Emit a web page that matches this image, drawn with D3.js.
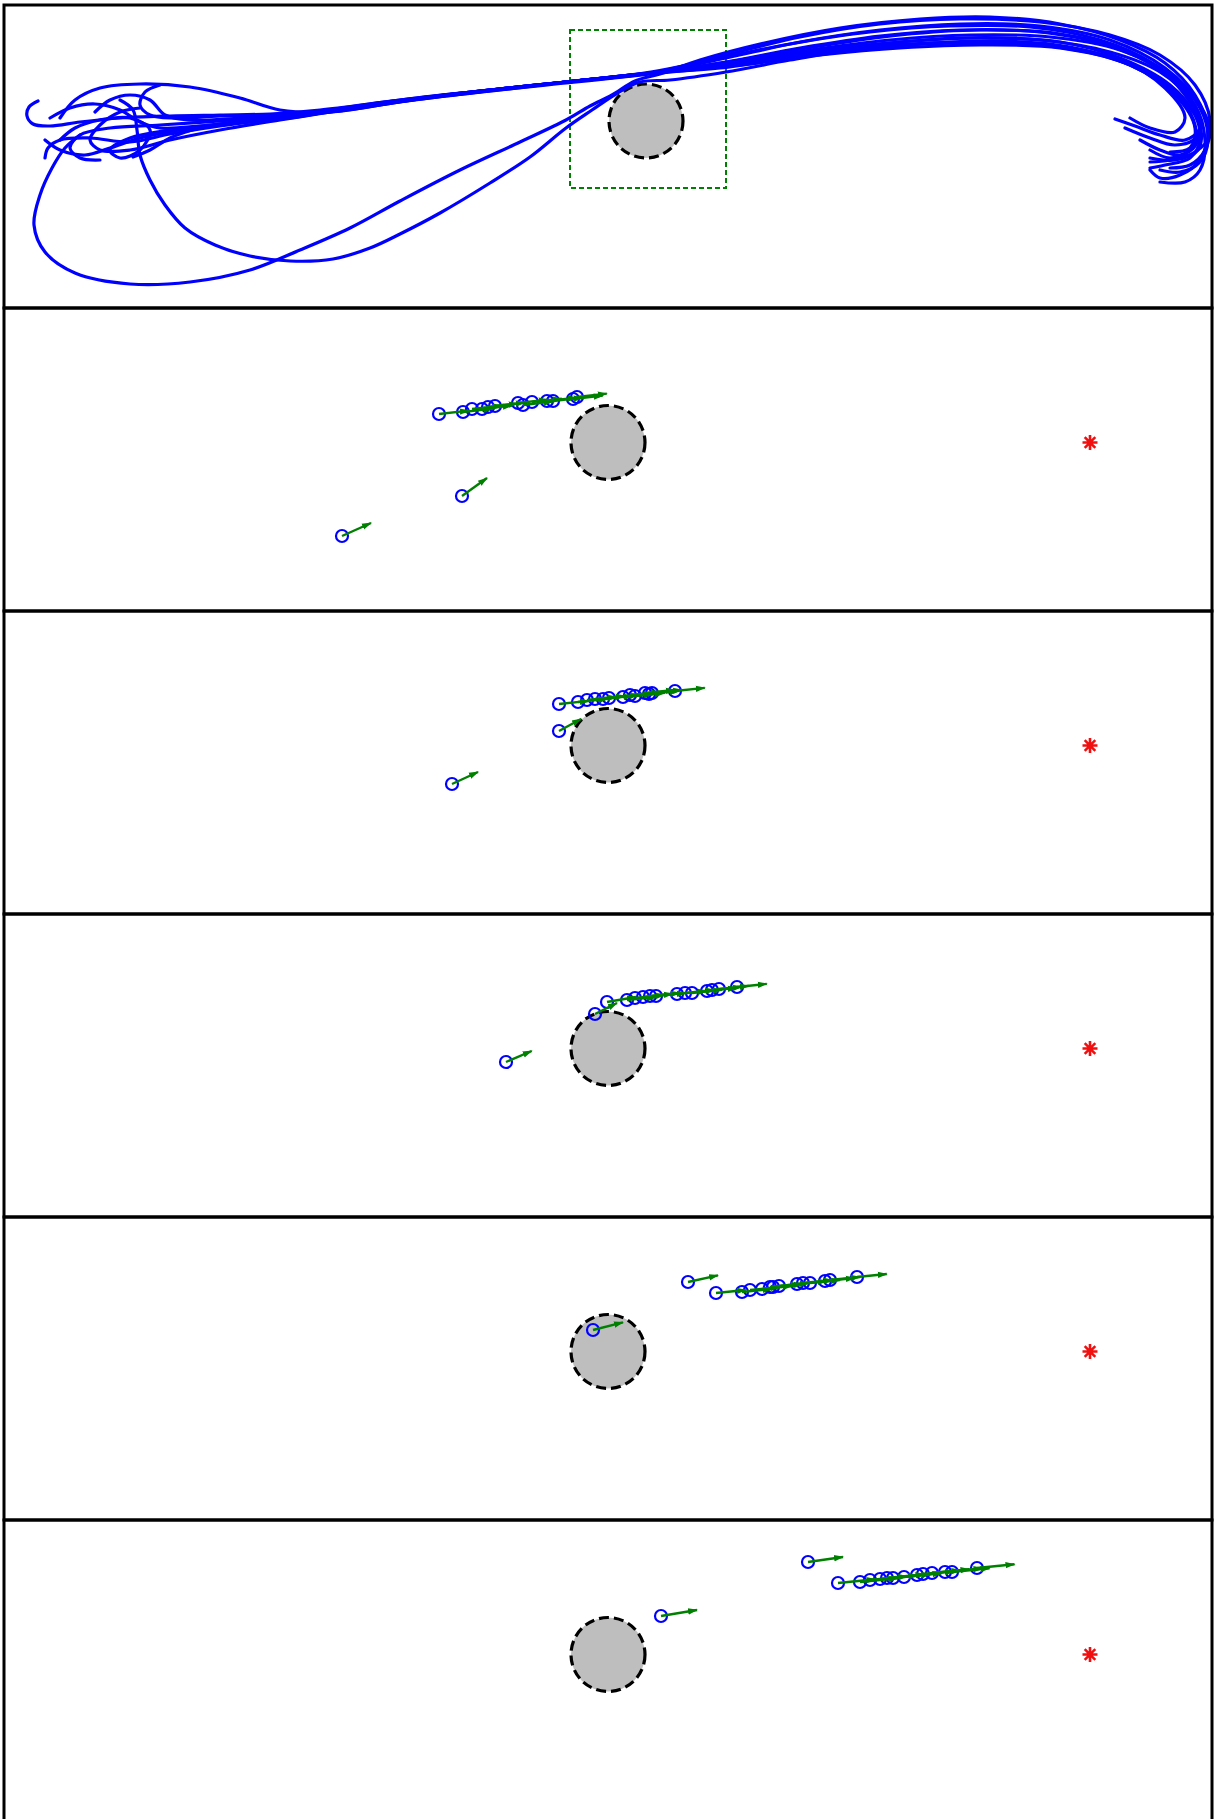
<!DOCTYPE html>
<html>
<head>
<meta charset="utf-8">
<script src="https://cdn.jsdelivr.net/npm/d3@7"></script>
<style>
  body { margin: 0; background: #fff; }
</style>
</head>
<body>
<div id="vizcontainer"></div>
<script>
// overview panel: obstacle [x, y, r], zoom window [x0, y0, x1, y1]
const overviewObstacle = [64.6, 18.7, 3.7];
const zoomBox = [57.0, 12.0, 72.6, 27.8];

// snapshot panels: obstacle and goal
const snapObstacle = [60.8, 16.85, 3.7];
const goal = [109.0, 16.85];

// trajectories [x, y]
const traj01 = [[8.0,17.3],[6.5,16.0],[5.2,14.0],[4.0,11.3],[3.4,8.3],[4.5,5.6],[7.5,3.5],[13.0,2.4],[19.0,2.6],[25.0,3.8],[30.0,5.8],[35.0,8.0],[40.0,10.7],[46.0,13.8],[52.0,16.6],[56.6,18.8],[59.0,20.2],[61.2,21.3],[63.5,22.7],[66.0,23.4],[70.0,24.8],[76.0,26.4],[84.0,28.0],[92.0,28.9],[99.0,29.1],[106.0,28.4],[112.0,26.8],[116.5,24.5],[119.5,21.3],[120.8,17.8],[120.0,14.8],[118.0,13.3],[116.0,13.0],[115.0,13.8]];
const traj02 = [[12.0,20.8],[13.3,19.8],[13.7,17.8],[14.0,15.3],[15.0,12.8],[16.5,10.3],[18.5,8.0],[21.5,6.3],[25.0,5.2],[29.0,4.7],[33.3,4.9],[37.0,6.0],[40.0,7.4],[44.0,9.5],[49.0,12.5],[53.0,15.1],[56.6,18.0],[59.2,19.8],[61.6,21.4],[64.0,22.6],[67.0,22.8],[72.6,23.6],[79.0,24.8],[84.0,25.6],[92.0,26.4],[100.0,26.7],[107.0,26.1],[113.0,24.3],[117.5,21.6],[120.0,18.3],[119.8,15.8],[117.5,14.8],[115.0,15.0]];
const traj03 = [[3.8,20.7],[2.9,20.1],[2.7,19.2],[3.3,18.4],[5.0,18.2],[8.0,18.6],[12.0,19.0],[17.0,19.2],[22.0,19.3],[27.0,19.4],[32.0,19.8],[40.0,20.8],[49.0,21.8],[56.6,22.6],[65.1,23.5],[72.6,25.3],[80.0,27.1],[88.0,28.4],[96.0,28.9],[104.0,28.6],[111.0,27.3],[116.0,25.3],[119.5,22.3],[121.0,18.8],[120.5,15.8],[119.0,14.3],[117.0,14.0]];
const traj04 = [[6.0,19.0],[7.5,20.8],[10.0,22.0],[14.0,22.4],[19.0,22.1],[24.0,21.0],[28.0,19.8],[33.0,19.6],[40.0,20.6],[48.0,21.6],[56.6,22.5],[65.1,23.4],[72.6,24.2],[80.0,25.4],[88.0,26.4],[96.0,27.0],[104.0,26.8],[111.0,25.6],[116.0,23.6],[119.0,20.8],[120.0,18.0],[118.5,16.8],[116.0,17.3],[113.5,18.2],[111.5,18.9]];
const traj05 = [[4.5,16.8],[6.0,15.8],[8.5,15.3],[11.0,16.0],[14.0,17.0],[18.0,17.8],[23.0,18.4],[29.0,19.0],[35.0,20.0],[43.0,21.1],[50.0,21.9],[56.6,22.6],[65.1,23.5],[74.0,24.6],[82.0,25.8],[90.0,26.6],[98.0,27.0],[106.0,26.6],[112.0,25.0],[117.0,22.3],[119.5,19.3],[120.0,16.8],[119.0,15.0],[116.5,14.3],[115.0,14.0]];
const traj06 = [[10.0,14.8],[8.0,15.0],[7.0,16.0],[8.0,17.3],[11.0,18.0],[16.0,18.3],[22.0,18.7],[28.0,19.2],[34.0,19.8],[42.0,20.9],[50.0,21.8],[56.6,22.6],[65.1,23.5],[72.6,24.6],[80.0,26.0],[88.0,27.2],[96.0,27.8],[104.0,27.6],[111.0,26.2],[116.0,23.8],[119.5,20.3],[120.5,16.8],[120.0,13.8],[118.5,12.6],[116.0,12.6]];
const traj07 = [[13.3,15.1],[15.0,15.8],[17.0,17.0],[20.0,18.0],[25.0,18.8],[30.0,19.4],[37.0,20.4],[45.0,21.3],[53.0,22.2],[56.6,22.6],[65.1,23.5],[74.0,24.8],[82.0,26.2],[90.0,27.3],[98.0,27.8],[106.0,27.4],[113.0,25.6],[117.5,22.8],[119.8,19.3],[119.6,16.3],[118.0,15.3],[116.0,15.8],[114.0,16.8]];
const traj08 = [[9.5,19.6],[11.0,20.8],[13.0,21.3],[15.0,20.8],[16.5,19.3],[19.0,18.8],[24.0,19.0],[30.0,19.4],[36.0,20.2],[44.0,21.2],[52.0,22.1],[56.6,22.6],[65.1,23.5],[73.0,24.4],[81.0,25.6],[89.0,26.3],[97.0,26.6],[105.0,26.3],[112.0,24.8],[116.5,22.0],[118.5,19.0],[117.5,17.6],[115.0,18.0],[113.0,19.0]];
const traj09 = [[5.0,19.0],[7.0,20.0],[9.5,20.4],[12.0,19.8],[14.0,18.6],[16.0,18.0],[20.0,18.2],[26.0,18.9],[32.0,19.6],[40.0,20.8],[48.0,21.7],[56.6,22.6],[65.1,23.6],[72.0,25.0],[79.0,26.4],[87.0,27.6],[95.0,28.2],[103.0,28.1],[110.0,26.8],[115.0,24.6],[118.5,21.3],[120.0,18.3],[119.0,15.8],[117.0,15.0],[115.0,15.8]];
const traj10 = [[16.0,22.3],[14.5,21.6],[14.0,20.3],[15.0,19.3],[17.5,19.0],[22.0,19.2],[28.0,19.3],[34.0,19.9],[42.0,21.0],[50.0,21.9],[56.6,22.6],[65.1,23.5],[73.0,24.5],[81.0,25.8],[89.0,26.8],[97.0,27.3],[105.0,27.1],[112.0,25.8],[117.0,23.3],[120.0,20.0],[120.8,16.8],[120.0,14.6],[118.0,13.6],[116.0,13.8]];
const traj11 = [[6.0,16.8],[7.5,18.0],[10.0,18.8],[13.0,19.0],[15.0,17.8],[14.0,15.8],[12.0,15.0],[11.0,15.8],[13.0,17.0],[17.0,17.8],[23.0,18.5],[29.0,19.1],[35.0,20.0],[43.0,21.1],[51.0,22.0],[56.6,22.6],[65.1,23.5],[74.0,24.3],[82.0,25.3],[90.0,26.0],[98.0,26.3],[106.0,26.0],[113.0,24.3],[117.5,21.3],[119.5,18.0],[119.0,16.0],[117.0,15.6]];
const traj12 = [[14.0,20.0],[12.0,19.6],[10.0,18.3],[9.0,16.8],[10.0,15.8],[13.0,15.8],[17.0,16.8],[22.0,17.8],[28.0,18.8],[33.0,19.6],[41.0,20.8],[49.0,21.8],[56.6,22.6],[65.1,23.5],[72.6,25.0],[80.0,26.6],[88.0,27.8],[96.0,28.4],[104.0,28.2],[111.0,26.8],[116.5,24.0],[120.0,20.3],[121.0,17.3],[119.5,15.6],[117.0,14.8],[115.0,14.6]];
const traj13 = [[4.5,15.0],[4.8,16.0],[6.0,16.8],[9.0,17.0],[13.0,16.6],[17.0,17.4],[22.0,18.2],[28.0,19.0],[34.0,19.7],[42.0,20.9],[50.0,21.9],[56.6,22.6],[65.1,23.5],[72.0,24.0],[80.0,25.2],[88.0,26.1],[96.0,26.5],[104.0,26.3],[111.0,25.0],[116.0,22.8],[119.0,19.6],[119.5,17.0],[117.5,16.3],[115.0,17.0],[112.5,18.0]];
const trajectories = [traj01, traj02, traj03, traj04, traj05, traj06, traj07, traj08, traj09, traj10, traj11, traj12, traj13];

// snapshots: agents [x, y, vx, vy]
const snap1 = [[34.2,7.5,2.9,1.3],[46.2,11.5,2.5,1.8],[43.9,19.7,2.98,0.34],[46.3,19.9,2.98,0.34],[47.2,20.2,2.98,0.34],[48.2,20.2,2.98,0.34],[48.8,20.4,2.98,0.34],[49.5,20.5,2.98,0.34],[51.8,20.8,2.98,0.34],[52.3,20.6,2.98,0.34],[53.2,20.9,2.98,0.34],[54.7,21.0,2.98,0.34],[55.3,21.0,2.98,0.34],[57.3,21.2,2.98,0.34],[57.7,21.4,2.98,0.34]];
const snap2 = [[45.2,13.0,2.6,1.2],[55.9,18.3,2.2,1.2],[55.9,21.0,2.98,0.31],[57.8,21.2,2.98,0.31],[58.7,21.4,2.98,0.31],[59.5,21.5,2.98,0.31],[60.3,21.5,2.98,0.31],[60.9,21.6,2.98,0.31],[62.3,21.7,2.98,0.31],[63.0,21.9,2.98,0.31],[63.5,21.8,2.98,0.31],[64.5,22.1,2.98,0.31],[64.9,22.0,2.98,0.31],[65.2,22.1,2.98,0.31],[67.5,22.3,2.98,0.31]];
const snap3 = [[50.6,15.5,2.57,1.1],[59.5,20.3,2.2,1.1],[60.7,21.5,2.9,0.5],[62.7,21.7,2.98,0.31],[63.5,21.9,2.98,0.31],[64.3,22.0,2.98,0.31],[65.0,22.1,2.98,0.31],[65.6,22.1,2.98,0.31],[67.7,22.3,2.98,0.31],[68.5,22.4,2.98,0.31],[69.2,22.4,2.98,0.31],[70.7,22.6,2.98,0.31],[71.2,22.7,2.98,0.31],[71.9,22.8,2.98,0.31],[73.7,23.0,2.98,0.31]];
const snap4 = [[59.3,19.0,3.0,0.77],[68.8,23.8,3.0,0.67],[71.6,22.7,2.98,0.3],[74.2,22.8,2.98,0.3],[75.0,23.0,2.98,0.3],[76.2,23.1,2.98,0.3],[77.0,23.3,2.98,0.3],[77.3,23.3,2.98,0.3],[77.9,23.4,2.98,0.3],[79.7,23.6,2.98,0.3],[80.3,23.7,2.98,0.3],[81.0,23.7,2.98,0.3],[82.5,23.9,2.98,0.3],[83.0,24.0,2.98,0.3],[85.7,24.3,2.98,0.3]];
const snap5 = [[66.1,20.7,3.6,0.6],[80.8,26.1,3.5,0.5],[83.8,24.0,3.75,0.37],[86.0,24.1,3.75,0.37],[87.0,24.3,3.75,0.37],[88.0,24.4,3.75,0.37],[88.7,24.5,3.75,0.37],[89.3,24.5,3.75,0.37],[90.4,24.6,3.75,0.37],[91.7,24.8,3.75,0.37],[92.3,24.9,3.75,0.37],[93.2,25.0,3.75,0.37],[94.5,25.1,3.75,0.37],[95.2,25.1,3.75,0.37],[97.7,25.5,3.75,0.37]];
const snapshots = [snap1, snap2, snap3, snap4, snap5];

const width = 1217,
  height = 1819;
const panelH = 303,
  panelTop = 5;

const blue = '#0000ff',
  green = '#008000',
  grey = '#bebebe';

let viz = d3.select('#vizcontainer')
  .append('svg')
  .attr('width', width)
  .attr('height', height)
  ;

const x = d3.scaleLinear()
  .domain([0, 121.7])
  .range([0, width]);

function yScale(k) {
  const top = panelTop + k * panelH;
  return d3.scaleLinear()
    .domain([0, 30.3])
    .range([top + panelH, top]);
}

const rpx = r => x(r) - x(0);

// asterisk marker (+ and x)
const asterisk = {
  draw(ctx, size) {
    const r = Math.sqrt(size) / 2;
    [0, 45, 90, 135].forEach(a => {
      const t = a * Math.PI / 180;
      ctx.moveTo(-r * Math.cos(t), -r * Math.sin(t));
      ctx.lineTo(r * Math.cos(t), r * Math.sin(t));
    });
  }
};

let defs = viz.append('defs');
defs.append('marker')
  .attr('id', 'head')
  .attr('viewBox', '0 -5 10 10')
  .attr('refX', 9)
  .attr('refY', 0)
  .attr('markerUnits', 'userSpaceOnUse')
  .attr('markerWidth', 10)
  .attr('markerHeight', 10)
  .attr('orient', 'auto')
  .append('path')
  .attr('d', 'M0,-3.2L10,0L0,3.2Z')
  .attr('fill', green);

defs.append('clipPath')
  .attr('id', 'clip0')
  .append('rect')
  .attr('x', x(0.4))
  .attr('y', panelTop)
  .attr('width', x(121.2) - x(0.4))
  .attr('height', panelH);

function drawObstacle(g, y, ob) {
  g.append('circle')
    .attr('cx', x(ob[0]))
    .attr('cy', y(ob[1]))
    .attr('r', rpx(ob[2]))
    .attr('fill', grey)
    .attr('stroke', '#000')
    .attr('stroke-width', 3.2)
    .attr('stroke-dasharray', '10,5');
}

// panel 1: all trajectories
const y0 = yScale(0);
let p0 = viz.append('g').attr('clip-path', 'url(#clip0)');

drawObstacle(p0, y0, overviewObstacle);

p0.append('rect')
  .attr('x', x(zoomBox[0]))
  .attr('y', y0(zoomBox[3]))
  .attr('width', x(zoomBox[2]) - x(zoomBox[0]))
  .attr('height', y0(zoomBox[1]) - y0(zoomBox[3]))
  .attr('fill', 'none')
  .attr('stroke', green)
  .attr('stroke-width', 2)
  .attr('stroke-dasharray', '5,3');

const line = d3.line()
  .x(d => x(d[0]))
  .y(d => y0(d[1]))
  .curve(d3.curveCatmullRom.alpha(0.5));

p0.selectAll('path.traj')
  .data(trajectories)
  .join('path')
  .attr('class', 'traj')
  .attr('d', line)
  .attr('fill', 'none')
  .attr('stroke', blue)
  .attr('stroke-width', 3.2)
  .attr('stroke-linejoin', 'round')
  .attr('stroke-linecap', 'round');

// panels 2-6: snapshots
snapshots.forEach((agents, i) => {
  const y = yScale(i + 1);
  let g = viz.append('g');

  drawObstacle(g, y, snapObstacle);

  g.append('path')
    .attr('transform', `translate(${x(goal[0])},${y(goal[1])})`)
    .attr('d', d3.symbol().type(asterisk).size(225)())
    .attr('fill', 'none')
    .attr('stroke', '#f01010')
    .attr('stroke-width', 2.6);

  g.selectAll('circle.agent')
    .data(agents)
    .join('circle')
    .attr('class', 'agent')
    .attr('cx', d => x(d[0]))
    .attr('cy', d => y(d[1]))
    .attr('r', 6)
    .attr('fill', 'none')
    .attr('stroke', blue)
    .attr('stroke-width', 2.2);

  g.selectAll('line.vel')
    .data(agents)
    .join('line')
    .attr('class', 'vel')
    .attr('x1', d => x(d[0]))
    .attr('y1', d => y(d[1]))
    .attr('x2', d => x(d[0] + d[2]))
    .attr('y2', d => y(d[1] + d[3]))
    .attr('stroke', green)
    .attr('stroke-width', 2.4)
    .attr('marker-end', 'url(#head)');
});

// panel frames
viz.selectAll('rect.frame')
  .data(d3.range(6))
  .join('rect')
  .attr('class', 'frame')
  .attr('x', x(0.4))
  .attr('y', k => yScale(k)(30.3))
  .attr('width', x(121.2) - x(0.4))
  .attr('height', panelH)
  .attr('fill', 'none')
  .attr('stroke', '#000')
  .attr('stroke-width', 3);
</script>
</body>
</html>
